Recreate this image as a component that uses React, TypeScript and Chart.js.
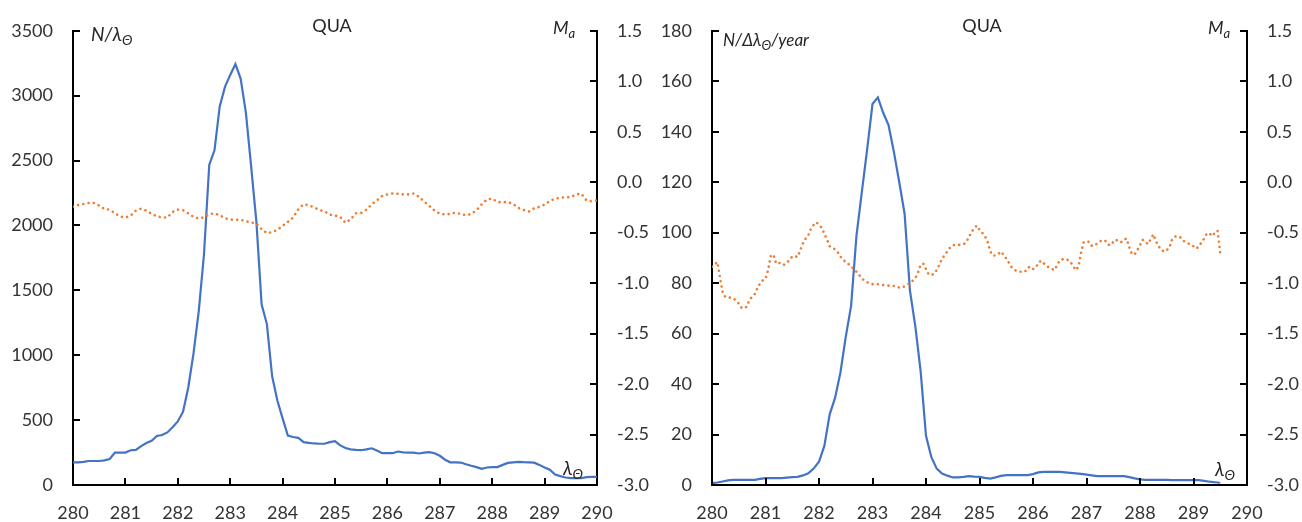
import React, { useEffect, useRef } from 'react';
import { Chart, registerables } from 'chart.js';

Chart.register(...registerables);

const FONT = 'Lato, "DejaVu Sans", sans-serif';
const TEXT = '#333333';
const BLUE = '#4472C4';
const ORANGE = '#ED7D31';

// Solar longitude axis (degrees)
const LONG_START = 280;
const LONG_END = 290;
const STEP_COARSE = 0.1;
const STEP_FINE = 0.05;

// Left panel: N/λ per 0.1° bin, 280.0 … 290.0
const rateTotal = [
  175, 175, 178, 185, 185, 185, 190, 200, 250, 250,
  250, 268, 270, 300, 323, 340, 378, 385, 405, 445,
  490, 565, 751, 1014, 1340, 1778, 2467, 2579, 2917, 3068,
  3160, 3243, 3130, 2868, 2454, 2028, 1390, 1240, 839, 651,
  513, 381, 370, 363, 330, 325, 320, 318, 318, 330,
  338, 305, 285, 275, 270, 268, 275, 283, 265, 245,
  245, 245, 258, 252, 250, 250, 243, 250, 253, 245,
  225, 195, 175, 175, 173, 160, 148, 138, 125, 135,
  138, 138, 155, 170, 175, 178, 176, 175, 172, 155,
  135, 118, 80, 68, 58, 53, 53, 53, 60, 63,
  63,
];

// Left panel: mean absolute magnitude M_a, 280.0 … 290.0
const magTotal = [
  -0.242, -0.226, -0.216, -0.206, -0.206, -0.232, -0.265, -0.272, -0.308, -0.34,
  -0.35, -0.331, -0.281, -0.262, -0.281, -0.314, -0.337, -0.35, -0.35, -0.295,
  -0.272, -0.278, -0.308, -0.344, -0.36, -0.347, -0.317, -0.308, -0.327, -0.357,
  -0.37, -0.373, -0.373, -0.386, -0.399, -0.409, -0.465, -0.504, -0.495, -0.472,
  -0.432, -0.393, -0.35, -0.268, -0.219, -0.229, -0.249, -0.275, -0.288, -0.321,
  -0.331, -0.344, -0.402, -0.367, -0.308, -0.304, -0.272, -0.219, -0.18, -0.137,
  -0.121, -0.111, -0.114, -0.121, -0.121, -0.111, -0.144, -0.19, -0.235, -0.281,
  -0.311, -0.321, -0.314, -0.301, -0.317, -0.327, -0.314, -0.278, -0.219, -0.17,
  -0.163, -0.196, -0.199, -0.196, -0.216, -0.255, -0.275, -0.291, -0.258, -0.245,
  -0.222, -0.186, -0.163, -0.153, -0.15, -0.147, -0.121, -0.114, -0.18, -0.19,
  -0.18,
];

// Right panel: N/Δλ/year per 0.1° bin, 280.0 … 289.5
const ratePerYear = [
  0.7, 1.0, 1.4, 1.8, 2.0, 2.0, 2.0, 2.0, 2.0, 2.4,
  2.7, 2.7, 2.7, 2.7, 2.9, 3.1, 3.2, 3.8, 4.6, 6.5,
  9.2, 15.5, 28.0, 34.5, 44.5, 58.7, 71.0, 98.7, 116, 133,
  151, 153.6, 147.5, 142.6, 132, 120, 107.5, 77, 63, 45,
  19.5, 11, 6.5, 4.5, 3.7, 3.0, 3.0, 3.2, 3.5, 3.3,
  3.2, 2.8, 2.5, 3.0, 3.6, 3.9, 3.9, 3.9, 3.9, 3.9,
  4.3, 5.0, 5.2, 5.2, 5.2, 5.2, 5.0, 4.8, 4.6, 4.4,
  4.1, 3.8, 3.5, 3.5, 3.5, 3.5, 3.5, 3.5, 3.1, 2.6,
  2.2, 2.0, 2.0, 2.0, 2.0, 2.0, 1.9, 1.9, 1.9, 1.9,
  1.9, 1.9, 1.6, 1.3, 1.1, 0.9,
];

// Right panel: M_a per 0.05° step, 280.00 … 289.50
const magPerYear = [
  -0.837, -0.816, -0.791, -0.943, -1.097, -1.138, -1.141, -1.145, -1.15, -1.174,
  -1.203, -1.242, -1.251, -1.232, -1.165, -1.136, -1.107, -1.049, -1.001, -0.972,
  -0.959, -0.866, -0.726, -0.72, -0.806, -0.801, -0.797, -0.818, -0.799, -0.77,
  -0.736, -0.733, -0.741, -0.673, -0.606, -0.558, -0.526, -0.462, -0.423, -0.397,
  -0.423, -0.452, -0.51, -0.568, -0.635, -0.652, -0.664, -0.693, -0.736, -0.77,
  -0.789, -0.81, -0.832, -0.861, -0.887, -0.919, -0.951, -0.977, -0.991, -1.003,
  -1.01, -1.01, -1.011, -1.015, -1.019, -1.022, -1.025, -1.027, -1.028, -1.033,
  -1.044, -1.044, -1.03, -1.015, -1.001, -0.977, -0.952, -0.897, -0.818, -0.808,
  -0.861, -0.914, -0.919, -0.909, -0.871, -0.818, -0.758, -0.722, -0.683, -0.647,
  -0.625, -0.622, -0.622, -0.62, -0.616, -0.596, -0.548, -0.493, -0.458, -0.429,
  -0.471, -0.5, -0.534, -0.587, -0.683, -0.726, -0.726, -0.712, -0.687, -0.72,
  -0.755, -0.799, -0.842, -0.866, -0.881, -0.887, -0.887, -0.887, -0.847, -0.837,
  -0.861, -0.847, -0.799, -0.777, -0.803, -0.828, -0.844, -0.858, -0.871, -0.823,
  -0.775, -0.765, -0.758, -0.77, -0.789, -0.832, -0.871, -0.837, -0.694, -0.591,
  -0.591, -0.591, -0.63, -0.63, -0.606, -0.587, -0.572, -0.579, -0.616, -0.625,
  -0.592, -0.568, -0.592, -0.592, -0.568, -0.558, -0.645, -0.712, -0.716, -0.673,
  -0.625, -0.571, -0.592, -0.613, -0.565, -0.517, -0.587, -0.635, -0.673, -0.688,
  -0.673, -0.646, -0.568, -0.539, -0.534, -0.543, -0.577, -0.592, -0.606, -0.621,
  -0.635, -0.659, -0.635, -0.596, -0.558, -0.507, -0.507, -0.534, -0.5, -0.481,
  -0.702,
];

// Axis ranges and tick steps
const rateTotalAxis = { min: 0, max: 3500, step: 500 };
const ratePerYearAxis = { min: 0, max: 180, step: 20 };
const magAxis = { min: -3, max: 1.5, step: 0.5 };

const toPoints = (values: number[], step: number) =>
  values.map((v, i) => ({ x: +(LONG_START + i * step).toFixed(2), y: v }));

type Seg = { text: string; size: number; dy?: number };
type Note = { x: number; y: number; segs: Seg[]; italic?: boolean; center?: boolean };

// Axis captions and panel titles
const notesPlugin = {
  id: 'panelNotes',
  afterDraw(chart: any, _args: any, opts: any) {
    const ctx: CanvasRenderingContext2D = chart.ctx;
    const items: Note[] = opts.items || [];
    ctx.save();
    ctx.fillStyle = '#262626';
    ctx.textBaseline = 'alphabetic';
    ctx.textAlign = 'left';
    items.forEach((n) => {
      const fontOf = (s: Seg) => `${n.italic ? 'italic ' : ''}${s.size}px ${FONT}`;
      let total = 0;
      n.segs.forEach((s) => {
        ctx.font = fontOf(s);
        total += ctx.measureText(s.text).width;
      });
      let x = n.center ? n.x - total / 2 : n.x;
      n.segs.forEach((s) => {
        ctx.font = fontOf(s);
        ctx.fillText(s.text, x, n.y + (s.dy || 0));
        x += ctx.measureText(s.text).width;
      });
    });
    ctx.restore();
  },
};

// Tick marks drawn on the inside of the plot frame
const innerTicksPlugin = {
  id: 'innerTicks',
  afterDraw(chart: any) {
    const { ctx, chartArea: a, scales } = chart;
    const len = 7;
    ctx.save();
    ctx.strokeStyle = '#000';
    ctx.lineWidth = 2;
    ctx.beginPath();
    scales.x.ticks.forEach((t: any) => {
      const px = Math.round(scales.x.getPixelForValue(t.value));
      ctx.moveTo(px, a.bottom);
      ctx.lineTo(px, a.bottom - len);
    });
    scales.y.ticks.forEach((t: any) => {
      const py = Math.round(scales.y.getPixelForValue(t.value));
      ctx.moveTo(a.left, py);
      ctx.lineTo(a.left + len, py);
    });
    scales.y1.ticks.forEach((t: any) => {
      const py = Math.round(scales.y1.getPixelForValue(t.value));
      ctx.moveTo(a.right, py);
      ctx.lineTo(a.right - len, py);
    });
    ctx.stroke();
    ctx.restore();
  },
};

type PanelProps = {
  width: number;
  height: number;
  top: number;
  bottomAxisHeight: number;
  leftAxisWidth: number;
  rightAxisWidth: number;
  rate: { x: number; y: number }[];
  mag: { x: number; y: number }[];
  rateAxis: { min: number; max: number; step: number };
  notes: Note[];
};

function Panel(p: PanelProps) {
  const ref = useRef<HTMLCanvasElement | null>(null);

  useEffect(() => {
    if (!ref.current) return;
    const tickFont = { family: FONT, size: 18 };
    const border = { display: true, color: '#000', width: 2 };
    const grid = { display: false, drawTicks: false, tickLength: 0 };
    const chart = new Chart(ref.current, {
      type: 'line',
      data: {
        datasets: [
          {
            data: p.rate,
            yAxisID: 'y',
            borderColor: BLUE,
            borderWidth: 2.2,
            pointRadius: 0,
            tension: 0,
            order: 2,
          },
          {
            data: p.mag,
            yAxisID: 'y1',
            borderColor: ORANGE,
            borderWidth: 2.6,
            borderDash: [0.01, 5.3],
            borderCapStyle: 'round',
            pointRadius: 0,
            tension: 0,
            order: 1,
          },
        ],
      },
      options: {
        animation: false,
        responsive: false,
        devicePixelRatio: 1,
        parsing: false,
        normalized: true,
        layout: { padding: { top: p.top, left: 0, right: 0, bottom: 0 } },
        plugins: {
          legend: { display: false },
          tooltip: { enabled: false },
          panelNotes: { items: p.notes },
        } as any,
        scales: {
          x: {
            type: 'linear',
            min: LONG_START,
            max: LONG_END,
            grid,
            border,
            ticks: {
              stepSize: 1,
              padding: 17,
              color: TEXT,
              font: tickFont,
              maxRotation: 0,
              callback: (v: any) => String(v),
            },
            afterFit: (s: any) => {
              s.height = p.bottomAxisHeight;
            },
          },
          y: {
            type: 'linear',
            position: 'left',
            min: p.rateAxis.min,
            max: p.rateAxis.max,
            grid,
            border,
            ticks: {
              stepSize: p.rateAxis.step,
              padding: 20,
              color: TEXT,
              font: tickFont,
              callback: (v: any) => String(v),
            },
            afterFit: (s: any) => {
              s.width = p.leftAxisWidth;
            },
          },
          y1: {
            type: 'linear',
            position: 'right',
            min: magAxis.min,
            max: magAxis.max,
            grid,
            border,
            ticks: {
              stepSize: magAxis.step,
              padding: 20,
              color: TEXT,
              font: tickFont,
              callback: (v: any) => Number(v).toFixed(1),
            },
            afterFit: (s: any) => {
              s.width = p.rightAxisWidth;
            },
          },
        },
      } as any,
      plugins: [innerTicksPlugin, notesPlugin],
    });
    return () => chart.destroy();
  }, []);

  return <canvas ref={ref} width={p.width} height={p.height} style={{ display: 'block' }} />;
}

export default function App() {
  const H = 522;
  return (
    <div style={{ position: 'absolute', left: 0, top: 0, width: 1302, height: H, display: 'flex', background: '#fff' }}>
      <Panel
        width={651}
        height={H}
        top={19}
        bottomAxisHeight={37}
        leftAxisWidth={73}
        rightAxisWidth={54}
        rate={toPoints(rateTotal, STEP_COARSE)}
        mag={toPoints(magTotal, STEP_COARSE)}
        rateAxis={rateTotalAxis}
        notes={[
          { x: 91, y: 40.5, italic: true, segs: [{ text: 'N/λ', size: 19 }, { text: 'Θ', size: 14, dy: 4.5 }] },
          { x: 332, y: 32, center: true, segs: [{ text: 'QUA', size: 18 }] },
          { x: 553, y: 33.5, italic: true, segs: [{ text: 'M', size: 18 }, { text: 'a', size: 13, dy: 4 }] },
          { x: 563, y: 475, italic: true, segs: [{ text: 'λ', size: 19 }, { text: 'Θ', size: 14, dy: 4 }] },
        ]}
      />
      <Panel
        width={651}
        height={H}
        top={20}
        bottomAxisHeight={37}
        leftAxisWidth={61}
        rightAxisWidth={55}
        rate={toPoints(ratePerYear, STEP_COARSE)}
        mag={toPoints(magPerYear, STEP_FINE)}
        rateAxis={ratePerYearAxis}
        notes={[
          {
            x: 72,
            y: 45.5,
            italic: true,
            segs: [
              { text: 'N/Δλ', size: 17 },
              { text: 'Θ', size: 13, dy: 4 },
              { text: '/year', size: 17 },
            ],
          },
          { x: 331, y: 32, center: true, segs: [{ text: 'QUA', size: 18 }] },
          { x: 557, y: 34, italic: true, segs: [{ text: 'M', size: 18 }, { text: 'a', size: 13, dy: 4 }] },
          { x: 564, y: 476, italic: true, segs: [{ text: 'λ', size: 19 }, { text: 'Θ', size: 14, dy: 4 }] },
        ]}
      />
    </div>
  );
}
